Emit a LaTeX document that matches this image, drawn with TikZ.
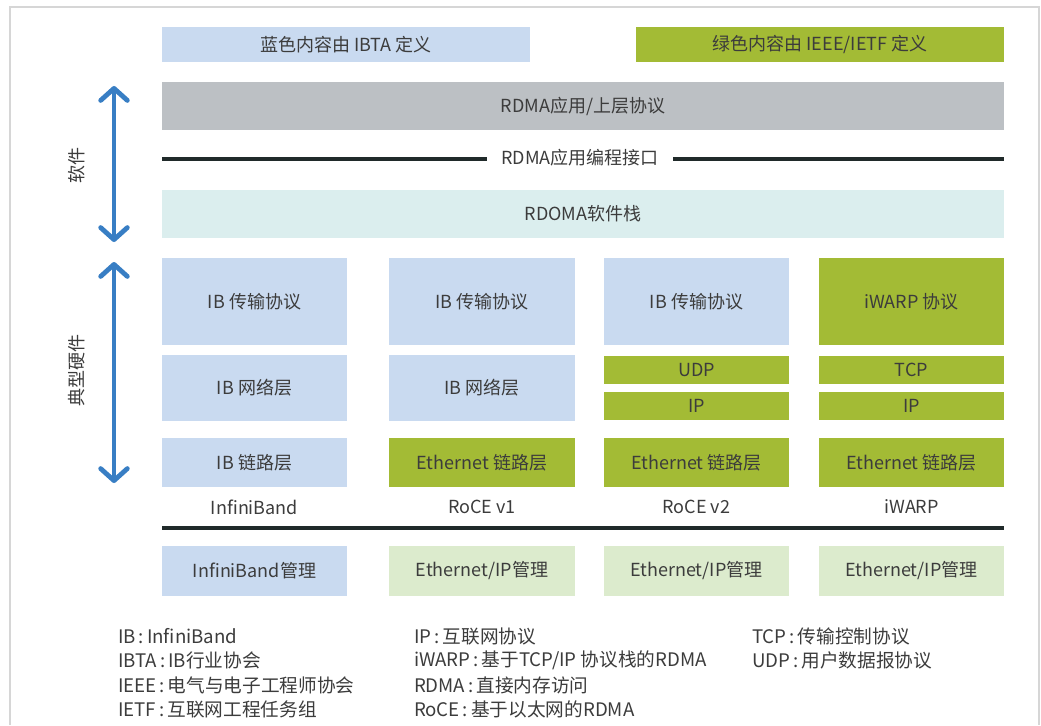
\documentclass[tikz,border=0pt]{standalone}
\usepackage{fontspec}
\setmainfont{Noto Sans CJK SC}
\usetikzlibrary{arrows.meta}
\definecolor{ibblue}{RGB}{201,218,240}
\definecolor{ieeegreen}{RGB}{163,187,53}
\definecolor{appgray}{RGB}{188,192,196}
\definecolor{stackcyan}{RGB}{219,238,238}
\definecolor{mgmtgreen}{RGB}{220,235,205}
\definecolor{arrowblue}{RGB}{56,126,196}
\definecolor{rulecol}{RGB}{32,42,42}
\definecolor{framecol}{RGB}{214,214,214}
\definecolor{txt}{RGB}{60,60,60}
\newcommand{\cln}{\,:\,}
\tikzset{
  blk/.style={inner sep=0pt, outer sep=0pt, text=txt, font=\fontsize{13.5}{16}\selectfont},
  bx/.style 2 args={blk, minimum width={#1*0.75pt}, minimum height={#2*0.75pt}},
  lbl/.style={blk, text=txt},
  leg/.style={blk, anchor=west, font=\fontsize{14}{16}\selectfont},
  thickrule/.style={draw=rulecol, line width=3.6pt},
  bigarrow/.style={draw=arrowblue, line width=3.6pt, {Straight Barb[length=9pt,width=20pt,line cap=round,round]}-{Straight Barb[length=9pt,width=20pt,line cap=round,round]}}
}
\begin{document}
\begin{tikzpicture}[x=0.75pt,y=-0.75pt]
\useasboundingbox (0,0) rectangle (1041,725);
\fill[white] (0,0) rectangle (1041,725);
% frame
\coordinate (fbl) at (10,725);
\coordinate (ftl) at (10,7);
\coordinate (ftr) at (1039,7);
\coordinate (fbr) at (1039,725);
\draw[framecol, line width=1.5pt] (fbl) -- (ftl) -- (ftr) -- (fbr);
% legend
\node[bx={368}{35}, fill=ibblue] (legb) at (346,44.5) {蓝色内容由 IBTA 定义};
\node[bx={368}{35}, fill=ieeegreen] (legg) at (820,44.5) {绿色内容由 IEEE/IETF 定义};
% application
\node[bx={842}{48}, fill=appgray] (app) at (583,106) {RDMA应用/上层协议};
% API
\node[blk, inner xsep=11pt] (api) at (580,158) {RDMA应用编程接口};
\coordinate (apiL) at (162,159);
\coordinate (apiR) at (1004,159);
\draw[thickrule] (apiL) -- (apiL -| api.west);
\draw[thickrule] (apiR -| api.east) -- (apiR);
% stack
\node[bx={842}{48}, fill=stackcyan] (stack) at (583,214) {RDOMA软件栈};
% column 1
\node[bx={185}{87}, fill=ibblue] (c1r1) at (254.5,301.5) {IB 传输协议};
\node[bx={185}{66}, fill=ibblue] (c1r2) at (254.5,388) {IB 网络层};
\node[bx={185}{49}, fill=ibblue] (c1r3) at (254.5,462.5) {IB 链路层};
% column 2
\node[bx={186}{87}, fill=ibblue] (c2r1) at (482,301.5) {IB 传输协议};
\node[bx={186}{66}, fill=ibblue] (c2r2) at (482,388) {IB 网络层};
\node[bx={186}{49}, fill=ieeegreen] (c2r3) at (482,462.5) {Ethernet 链路层};
% column 3
\node[bx={185}{87}, fill=ibblue] (c3r1) at (696.5,301.5) {IB 传输协议};
\node[bx={185}{28}, fill=ieeegreen] (c3udp) at (696.5,370) {UDP};
\node[bx={185}{28}, fill=ieeegreen] (c3ip) at (696.5,406) {IP};
\node[bx={185}{49}, fill=ieeegreen] (c3r3) at (696.5,462.5) {Ethernet 链路层};
% column 4
\node[bx={185}{87}, fill=ieeegreen] (c4r1) at (911.5,301.5) {iWARP 协议};
\node[bx={185}{28}, fill=ieeegreen] (c4tcp) at (911.5,370) {TCP};
\node[bx={185}{28}, fill=ieeegreen] (c4ip) at (911.5,406) {IP};
\node[bx={185}{49}, fill=ieeegreen] (c4r3) at (911.5,462.5) {Ethernet 链路层};
% column labels
\node[lbl] (n1) at (254.5,507) {InfiniBand};
\node[lbl] (n2) at (482,507) {RoCE v1};
\node[lbl] (n3) at (696.5,507) {RoCE v2};
\node[lbl] (n4) at (911.5,507) {iWARP};
% bottom rule
\coordinate (brL) at (162,528);
\coordinate (brR) at (1004,528);
\draw[thickrule] (brL) -- (brR);
% management
\node[bx={185}{50}, fill=ibblue] (m1) at (254.5,571) {InfiniBand管理};
\node[bx={186}{50}, fill=mgmtgreen] (m2) at (482,571) {Ethernet/IP管理};
\node[bx={185}{50}, fill=mgmtgreen] (m3) at (696.5,571) {Ethernet/IP管理};
\node[bx={185}{50}, fill=mgmtgreen] (m4) at (911.5,571) {Ethernet/IP管理};
% arrows
\coordinate (swT) at (114,86);
\coordinate (swB) at (114,242);
\draw[bigarrow] (swT) -- (swB);
\coordinate (hwT) at (114,262);
\coordinate (hwB) at (114,483);
\draw[bigarrow] (hwT) -- (hwB);
\node[lbl, rotate=90] (sw) at (77,165) {软件};
\node[lbl, rotate=90] (hw) at (77,370) {典型硬件};
% glossary
\node[leg] (g1) at (118,636) {IB\cln InfiniBand};
\node[leg] (g2) at (118,660) {IBTA\cln IB行业协会};
\node[leg] (g3) at (118,685) {IEEE\cln 电气与电子工程师协会};
\node[leg] (g4) at (118,709) {IETF\cln 互联网工程任务组};
\node[leg] (g5) at (414,636) {IP\cln 互联网协议};
\node[leg] (g6) at (414,660) {iWARP\cln 基于TCP/IP 协议栈的RDMA};
\node[leg] (g7) at (414,685) {RDMA\cln 直接内存访问};
\node[leg] (g8) at (414,709) {RoCE\cln 基于以太网的RDMA};
\node[leg] (g9) at (752,636) {TCP\cln 传输控制协议};
\node[leg] (g10) at (752,660) {UDP\cln 用户数据报协议};
\end{tikzpicture}
\end{document}
